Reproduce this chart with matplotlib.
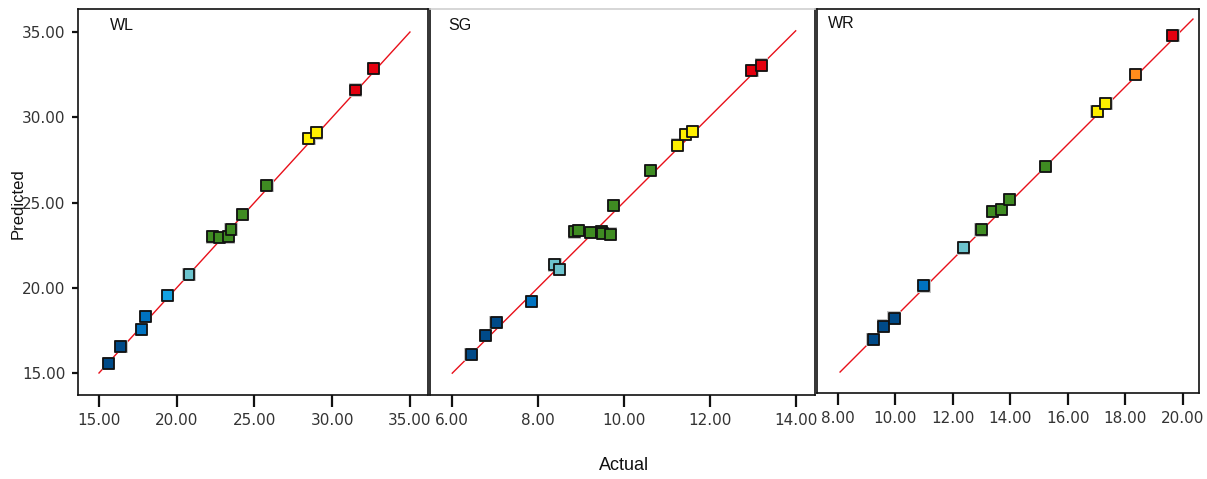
import matplotlib
matplotlib.use("Agg")
import matplotlib.pyplot as plt
from matplotlib import font_manager

# ---------------- data ----------------
panel_names = ["WL", "SG", "WR"]

wl_actual = [15.60, 16.41, 17.74, 18.00, 19.42, 20.79, 22.31, 22.78, 23.34, 23.49,
             24.24, 25.80, 28.50, 29.00, 31.49, 32.67]
wl_pred = [15.57, 16.54, 17.56, 18.30, 19.53, 20.77, 22.98, 22.96, 22.98, 23.43,
           24.28, 25.99, 28.77, 29.08, 31.60, 32.85]
wl_group = [0, 0, 1, 1, 2, 3, 4, 4, 4, 4, 4, 4, 5, 5, 7, 7]

sg_actual = [6.44, 6.77, 7.02, 7.84, 8.39, 8.50, 8.84, 8.94, 9.22, 9.47,
             9.51, 9.68, 9.75, 10.62, 11.25, 11.43, 11.60, 12.98, 13.20]
sg_pred = [6.44, 6.88, 7.18, 7.68, 8.53, 8.43, 9.30, 9.33, 9.28, 9.31,
           9.27, 9.25, 9.92, 10.73, 11.33, 11.57, 11.65, 13.07, 13.20]
sg_group = [0, 0, 0, 1, 3, 3, 4, 4, 4, 4, 4, 4, 4, 4, 5, 5, 5, 7, 7]

wr_actual = [9.22, 9.59, 9.95, 10.99, 12.36, 12.98, 13.39, 13.70, 13.98, 15.22,
             17.02, 17.33, 18.35, 19.66]
wr_pred = [9.21, 9.67, 9.95, 11.07, 12.39, 13.02, 13.65, 13.72, 14.08, 15.23,
           17.15, 17.43, 18.42, 19.79]
wr_group = [0, 0, 0, 1, 3, 4, 4, 4, 4, 4, 5, 5, 6, 7]

wl_ticks = [15.0, 20.0, 25.0, 30.0, 35.0]
sg_ticks = [6.0, 8.0, 10.0, 12.0, 14.0]
wr_ticks = [8.0, 10.0, 12.0, 14.0, 16.0, 18.0, 20.0]

wl_line = [15.0, 35.0]
sg_line = [6.0, 14.0]
wr_line = [8.07, 20.36]

# ---------------- style ----------------
palette = ["#004a88", "#0072c0", "#12a2e2", "#6cc4ce", "#3f8c22",
           "#fff000", "#ff8c1c", "#e4000f"]

avail = {f.name for f in font_manager.fontManager.ttflist}
narrow = "Liberation Sans Narrow" if "Liberation Sans Narrow" in avail else "DejaVu Sans"
plt.rcParams["font.family"] = ["Liberation Sans", "DejaVu Sans"]

fig = plt.figure(figsize=(12.07, 4.79), dpi=100)
W, H = 1207.0, 479.0

boxes = [(78, 428, 9, 395), (429.5, 815, 9, 395), (816.5, 1199, 9, 393)]
xlims = [(13.65, 36.16), (5.47, 14.45), (7.25, 20.57)]
ylims = [(13.71, 36.35), (5.49, 14.51), (7.34, 20.71)]
label_pos = [(0.091, 0.956), (0.048, 0.956), (0.030, 0.961)]

datasets = [(wl_actual, wl_pred, wl_group, wl_ticks, wl_line),
            (sg_actual, sg_pred, sg_group, sg_ticks, sg_line),
            (wr_actual, wr_pred, wr_group, wr_ticks, wr_line)]

for i, (name, (ax_x, ax_y, grp, ticks, line)) in enumerate(zip(panel_names, datasets)):
    l, r, t, b = boxes[i]
    ax = fig.add_axes([l / W, 1 - b / H, (r - l) / W, (b - t) / H])
    ax.set_xlim(*xlims[i])
    ax.set_ylim(*ylims[i])
    ax.plot(line, line, color="#e8101a", lw=1.0, zorder=2)
    cols = [palette[g] for g in grp]
    ax.scatter(ax_x, ax_y, s=92, marker="s", color="#c4c4c4", edgecolors="none",
               zorder=3)
    ax.scatter(ax_x, ax_y, s=62, marker="s", c=cols, edgecolors="#111111",
               linewidths=1.3, zorder=4)
    ax.set_xticks(ticks)
    ax.set_xticklabels([f"{v:.2f}" for v in ticks], fontfamily=narrow,
                       fontsize=11, color="#333333")
    ax.tick_params(axis="x", direction="out", length=8.5, width=1.6, pad=4.5,
                   color="#111111")
    if i == 0:
        ax.set_yticks(wl_ticks)
        ax.set_yticklabels([f"{v:.2f}" for v in wl_ticks], fontfamily=narrow,
                           fontsize=11, color="#333333")
        ax.tick_params(axis="y", direction="out", length=4.5, width=1.6, pad=4.5,
                       color="#111111")
    else:
        ax.set_yticks([])
    for s in ax.spines.values():
        s.set_linewidth(1.2)
        s.set_color("#111111")
    if i == 1:
        ax.spines["top"].set_color("#cfcfcf")
    ax.text(label_pos[i][0], label_pos[i][1], name, transform=ax.transAxes,
            fontsize=11.5, ha="left", va="center", color="#111111")

fig.text(18 / W, 1 - 204 / H, "Predicted", rotation=90, ha="center", va="center",
         fontsize=12, color="#111111")
fig.text(624 / W, 1 - 466 / H, "Actual", ha="center", va="center",
         fontsize=13, color="#111111")

fig.savefig("out.png", dpi=100)
